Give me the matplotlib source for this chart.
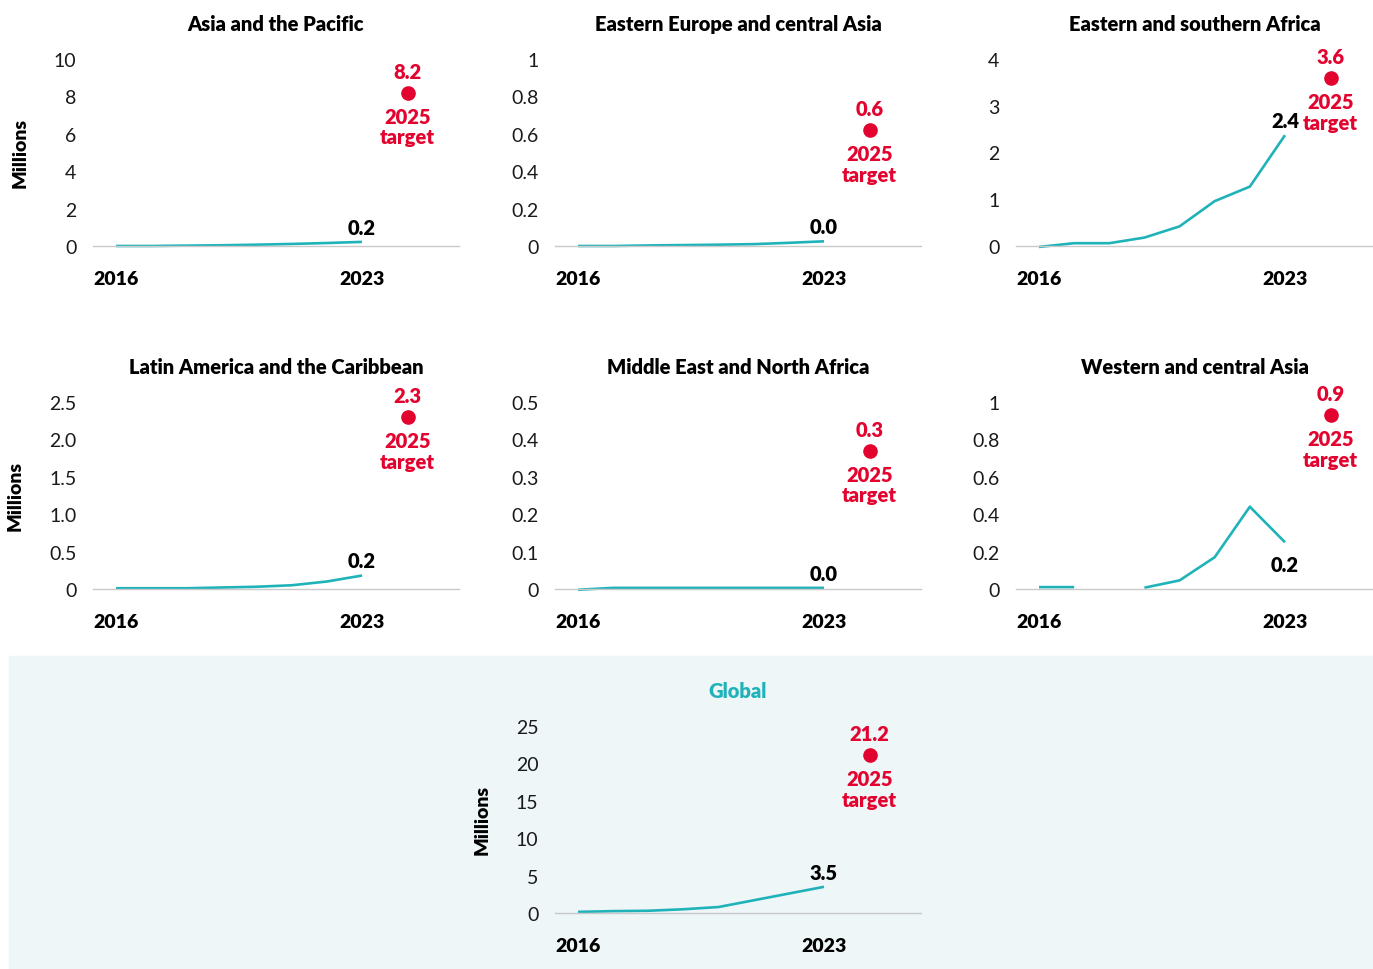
"""Progress towards 2025 targets by region"""

import matplotlib.pyplot as plt
from matplotlib.patches import Rectangle
import numpy as np

plt.rcParams['font.family'] = ['Lato', 'DejaVu Sans']

TEAL = '#1fb3b9'
RED = '#e2032f'
GREY = '#c9c9c9'

years = [2016, 2017, 2018, 2019, 2020, 2021, 2022, 2023]
target_year = 2024.3

asia_pacific = [0.0, 0.0, 0.02, 0.04, 0.07, 0.11, 0.16, 0.22]
eastern_europe = [0.0, 0.0, 0.003, 0.005, 0.007, 0.01, 0.017, 0.025]
eastern_southern_africa = [-0.02, 0.06, 0.06, 0.18, 0.42, 0.96, 1.27, 2.37]
latin_america = [0.01, 0.01, 0.01, 0.02, 0.03, 0.05, 0.10, 0.18]
mena = [-0.002, 0.003, 0.003, 0.003, 0.003, 0.003, 0.003, 0.003]
western_central_asia = [0.01, 0.01, np.nan, 0.007, 0.046, 0.17, 0.44, 0.25]
global_values = [0.15, 0.25, 0.3, 0.5, 0.8, 1.7, 2.6, 3.5]

titles = ['Asia and the Pacific', 'Eastern Europe and central Asia',
          'Eastern and southern Africa', 'Latin America and the Caribbean',
          'Middle East and North Africa', 'Western and central Asia', 'Global']
series = [asia_pacific, eastern_europe, eastern_southern_africa, latin_america,
          mena, western_central_asia, global_values]
last_labels = ['0.2', '0.0', '2.4', '0.2', '0.0', '0.2', '3.5']
targets = [8.2, 0.62, 3.6, 2.3, 0.37, 0.93, 21.1]
target_labels = ['8.2', '0.6', '3.6', '2.3', '0.3', '0.9', '21.2']

ytick_values = [
    [0, 2, 4, 6, 8, 10],
    [0, 0.2, 0.4, 0.6, 0.8, 1],
    [0, 1, 2, 3, 4],
    [0, 0.5, 1.0, 1.5, 2.0, 2.5],
    [0, 0.1, 0.2, 0.3, 0.4, 0.5],
    [0, 0.2, 0.4, 0.6, 0.8, 1],
    [0, 5, 10, 15, 20, 25],
]
ytick_labels = [
    ['0', '2', '4', '6', '8', '10'],
    ['0', '0.2', '0.4', '0.6', '0.8', '1'],
    ['0', '1', '2', '3', '4'],
    ['0', '0.5', '1.0', '1.5', '2.0', '2.5'],
    ['0', '0.1', '0.2', '0.3', '0.4', '0.5'],
    ['0', '0.2', '0.4', '0.6', '0.8', '1'],
    ['0', '5', '10', '15', '20', '25'],
]

W, H = 1373, 970
fig = plt.figure(figsize=(W / 100, H / 100), dpi=100)

# light band behind the global panel
fig.patches.append(Rectangle((9 / W, 0), (W - 9) / W, (H - 657) / H,
                             transform=fig.transFigure, color='#eef6f8', zorder=-5))

# axes boxes in pixels: left, top(ymax), width, baseline
PX_YEAR = 35.14
boxes = [
    (93, 60, 366, 247), (555, 60, 366, 247), (1016, 60, 357, 247),
    (93, 403, 366, 590), (555, 403, 366, 590), (1016, 403, 357, 590),
    (555, 727, 366, 914),
]
millions = [True, False, False, True, False, False, True]
BOLD = 'heavy'

for i, (left, top, width, base) in enumerate(boxes):
    ax = fig.add_axes([left / W, (H - base) / H, width / W, (base - top) / H])
    ax.patch.set_alpha(0)
    x0 = 2016 - 23 / PX_YEAR
    ax.set_xlim(x0, x0 + width / PX_YEAR)
    ax.set_ylim(0, ytick_values[i][-1])

    vals = series[i]
    ax.plot(years, vals, color=TEAL, lw=1.9, clip_on=False, solid_capstyle='butt')
    ax.plot([target_year], [targets[i]], 'o', color=RED, ms=9.5, clip_on=False)

    # labels
    dy = -16 if i == 5 else 10.5
    ax.annotate(last_labels[i], (years[-1], vals[-1]), xytext=(0, dy),
                textcoords='offset points', ha='center', va='center',
                fontsize=14.5, fontweight=BOLD, color='black')
    ax.annotate(target_labels[i], (target_year, targets[i]), xytext=(0, 15.5),
                textcoords='offset points', ha='center', va='center',
                fontsize=14.5, fontweight=BOLD, color=RED)
    ax.annotate('2025\ntarget', (target_year, targets[i]), xytext=(0, -24.5),
                textcoords='offset points', ha='center', va='center',
                fontsize=14.5, fontweight=BOLD, color=RED, linespacing=1.1)

    ax.set_yticks(ytick_values[i])
    ax.set_yticklabels(ytick_labels[i])
    ax.set_xticks([2016, 2023])
    ax.set_xticklabels(['2016', '2023'], fontweight=BOLD)
    ax.tick_params(axis='y', length=0, pad=12, labelsize=14, labelcolor='#1a1a1a')
    ax.tick_params(axis='x', length=0, pad=17, labelsize=14, labelcolor='black')

    for side in ['top', 'right', 'left']:
        ax.spines[side].set_visible(False)
    ax.spines['bottom'].set_color(GREY)
    ax.spines['bottom'].set_linewidth(1)

    tcolor = TEAL if i == 6 else 'black'
    ax.set_title(titles[i], fontsize=14.5, fontweight=BOLD, color=tcolor, pad=21)

    if millions[i]:
        ax.set_ylabel('Millions', fontsize=14, fontweight=BOLD, labelpad=18)

fig.savefig('out.png', dpi=100)
